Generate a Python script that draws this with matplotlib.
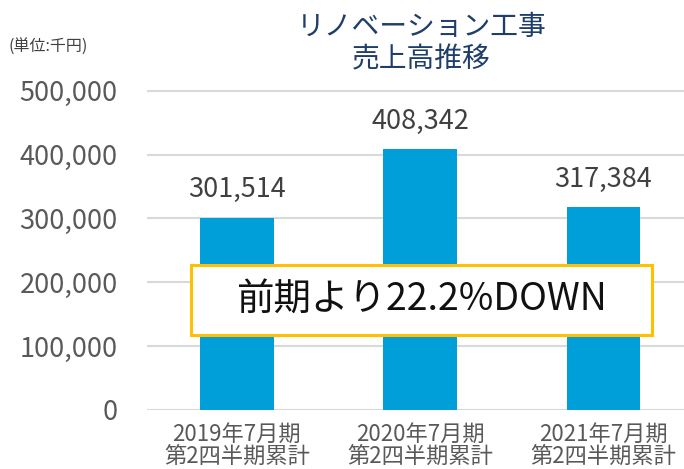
import matplotlib
matplotlib.use("Agg")
import matplotlib.pyplot as plt
from matplotlib.patches import Rectangle
from matplotlib.ticker import FuncFormatter

plt.rcParams["font.family"] = ["Noto Sans CJK JP", "DejaVu Sans"]

categories = ["2019年7月期\n第2四半期累計", "2020年7月期\n第2四半期累計", "2021年7月期\n第2四半期累計"]
sales = [301514, 408342, 317384]
y_ticks = [0, 100000, 200000, 300000, 400000, 500000]

title = "リノベーション工事\n売上高推移"
unit_label = "(単位:千円)"
note = "前期より22.2%DOWN"

BAR_COLOR = "#009FDA"
GRID_COLOR = "#D9D9D9"

fig = plt.figure(figsize=(6.84, 4.69), dpi=100)
ax = fig.add_axes([0.215, 0.126, 0.785, 0.683])

x = list(range(len(categories)))
ax.bar(x, sales, width=0.4, color=BAR_COLOR, zorder=2)

for xi, v in zip(x, sales):
    ax.annotate(f"{v:,}", (xi, v), xytext=(0, 20), textcoords="offset points",
                ha="center", va="center", fontsize=19.5, color="#404040")

ax.set_xlim(-0.49, 2.44)
ax.set_ylim(0, 502000)
ax.set_yticks(y_ticks)
ax.yaxis.set_major_formatter(FuncFormatter(lambda v, p: f"{int(v):,}"))
ax.set_xticks(x)
ax.set_xticklabels(categories, linespacing=0.95)

ax.tick_params(axis="y", length=0, pad=21, labelsize=19.5, labelcolor="#595959")
ax.tick_params(axis="x", length=0, pad=9, labelsize=16, labelcolor="#595959")
ax.grid(axis="y", color=GRID_COLOR, linewidth=1.5, zorder=0)
ax.set_axisbelow(True)
for s in ax.spines.values():
    s.set_visible(False)

fig.text(0.616, 0.975, title, ha="center", va="top", fontsize=20,
         color="#1F3F6A", linespacing=1.12)
fig.text(0.012, 0.9, unit_label, ha="left", va="center", fontsize=11.5, color="#404040")

# highlight box
fig.patches.append(Rectangle((191 / 684, 1 - 335 / 469), 461 / 684, 70 / 469,
                             transform=fig.transFigure, facecolor="white",
                             edgecolor="#FFC000", linewidth=2.2, zorder=5))
fig.text(0.616, 0.36, note, ha="center", va="center", fontsize=27,
         color="#111111", zorder=6)

fig.savefig("out.png", dpi=100)
